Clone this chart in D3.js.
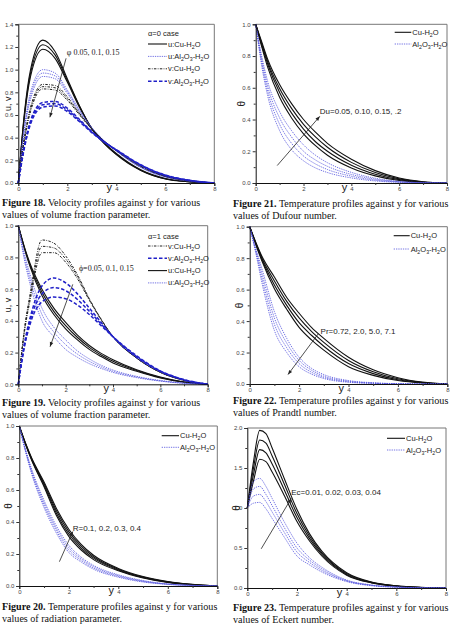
<!DOCTYPE html>
<html>
<head>
<meta charset="utf-8">
<script src="https://cdn.jsdelivr.net/npm/d3@7"></script>
<style>
body{margin:0;background:#fff}
svg{display:block}
</style>
</head>
<body>
<script>
// ---- data ----
// Fig 18 (alpha=0), phi = 0.05, 0.1, 0.15
var xs18 = [0,0.25,0.5,1,1.5,2,2.5,3,3.5,4,5,6,7,8];
var uCu18 = [
  [0,0.62,1.00,1.26,1.16,0.92,0.68,0.48,0.35,0.25,0.11,0.035,0.01,0],
  [0,0.60,0.97,1.22,1.13,0.905,0.675,0.48,0.352,0.255,0.113,0.037,0.011,0],
  [0,0.58,0.94,1.18,1.10,0.89,0.665,0.48,0.355,0.26,0.116,0.04,0.012,0]];
var uAl18 = [
  [0,0.50,0.80,1.00,0.97,0.82,0.645,0.49,0.37,0.28,0.135,0.052,0.016,0],
  [0,0.48,0.77,0.97,0.945,0.805,0.635,0.487,0.372,0.283,0.138,0.054,0.017,0],
  [0,0.46,0.74,0.94,0.92,0.79,0.625,0.485,0.374,0.286,0.141,0.056,0.018,0]];
var vCu18 = [
  [0,0.40,0.67,0.87,0.86,0.76,0.615,0.48,0.37,0.285,0.145,0.058,0.019,0],
  [0,0.39,0.65,0.85,0.84,0.745,0.607,0.477,0.37,0.288,0.148,0.06,0.02,0],
  [0,0.38,0.63,0.83,0.82,0.73,0.60,0.474,0.37,0.29,0.151,0.062,0.021,0]];
var vAl18 = [
  [0,0.33,0.55,0.71,0.72,0.66,0.56,0.455,0.365,0.29,0.155,0.066,0.022,0],
  [0,0.32,0.535,0.69,0.70,0.645,0.55,0.45,0.363,0.292,0.158,0.068,0.023,0],
  [0,0.31,0.52,0.67,0.68,0.63,0.54,0.445,0.361,0.294,0.161,0.07,0.024,0]];

// Fig 19 (alpha=1)
var xs19 = [0,0.25,0.5,1,1.5,2,2.5,3,3.5,4,5,6,7,8];
var vCu19 = [
  [0,0.34,0.57,0.91,0.89,0.81,0.69,0.54,0.41,0.30,0.165,0.075,0.025,0],
  [0,0.33,0.55,0.87,0.86,0.79,0.68,0.535,0.41,0.30,0.165,0.075,0.025,0],
  [0,0.32,0.53,0.83,0.83,0.77,0.665,0.53,0.405,0.30,0.165,0.075,0.025,0]];
var vAl19 = [
  [0,0.25,0.42,0.62,0.67,0.64,0.57,0.48,0.39,0.30,0.17,0.08,0.027,0],
  [0,0.24,0.40,0.57,0.61,0.59,0.535,0.46,0.38,0.30,0.175,0.082,0.028,0],
  [0,0.23,0.38,0.52,0.55,0.54,0.50,0.44,0.37,0.30,0.18,0.085,0.03,0]];
var uCu19 = [
  [1,0.87,0.76,0.60,0.48,0.39,0.31,0.245,0.195,0.155,0.092,0.046,0.015,0],
  [1,0.865,0.75,0.58,0.46,0.37,0.295,0.233,0.185,0.145,0.087,0.043,0.014,0],
  [1,0.86,0.74,0.56,0.44,0.35,0.28,0.22,0.175,0.135,0.082,0.04,0.013,0]];
var uAl19 = [
  [1,0.83,0.69,0.48,0.36,0.28,0.21,0.16,0.12,0.09,0.05,0.024,0.008,0],
  [1,0.81,0.66,0.44,0.33,0.25,0.19,0.145,0.11,0.082,0.046,0.022,0.007,0],
  [1,0.79,0.63,0.40,0.30,0.22,0.17,0.13,0.10,0.075,0.042,0.02,0.006,0]];

// Fig 20 (R = 0.1 .. 0.4)
var xsT = [0,0.25,0.5,1,1.5,2,2.5,3,4,5,6,7,8];
var cu20 = [
  [1,0.885,0.785,0.62,0.44,0.31,0.225,0.165,0.095,0.05,0.022,0.007,0],
  [1,0.888,0.79,0.63,0.455,0.325,0.237,0.174,0.10,0.053,0.024,0.008,0],
  [1,0.891,0.795,0.64,0.47,0.34,0.249,0.183,0.105,0.056,0.026,0.009,0],
  [1,0.894,0.80,0.65,0.485,0.355,0.26,0.192,0.11,0.059,0.028,0.01,0]];
var al20 = [
  [1,0.84,0.70,0.49,0.33,0.21,0.15,0.105,0.055,0.025,0.01,0.003,0],
  [1,0.845,0.71,0.505,0.345,0.225,0.16,0.113,0.06,0.028,0.011,0.003,0],
  [1,0.85,0.72,0.52,0.36,0.24,0.17,0.121,0.065,0.031,0.012,0.004,0],
  [1,0.855,0.73,0.535,0.375,0.255,0.18,0.129,0.07,0.034,0.013,0.004,0]];

// Fig 21 (Du)
var cu21 = [
  [1,0.86,0.73,0.54,0.41,0.31,0.235,0.175,0.095,0.045,0.016,0.004,0],
  [1,0.87,0.75,0.57,0.44,0.34,0.26,0.20,0.112,0.055,0.021,0.005,0],
  [1,0.88,0.765,0.595,0.47,0.37,0.29,0.225,0.13,0.066,0.026,0.006,0],
  [1,0.89,0.78,0.62,0.50,0.40,0.32,0.25,0.15,0.078,0.031,0.008,0]];
var al21 = [
  [1,0.74,0.55,0.33,0.21,0.14,0.095,0.066,0.032,0.013,0.004,0.001,0],
  [1,0.76,0.58,0.37,0.25,0.17,0.12,0.085,0.043,0.018,0.006,0.001,0],
  [1,0.78,0.61,0.41,0.29,0.20,0.145,0.105,0.054,0.024,0.008,0.002,0],
  [1,0.80,0.64,0.45,0.33,0.24,0.175,0.128,0.067,0.03,0.01,0.002,0]];

// Fig 22 (Pr)
var cu22 = [
  [1,0.90,0.81,0.68,0.55,0.45,0.36,0.29,0.17,0.09,0.04,0.012,0],
  [1,0.895,0.80,0.655,0.525,0.42,0.335,0.265,0.15,0.078,0.033,0.01,0],
  [1,0.89,0.79,0.63,0.50,0.39,0.31,0.24,0.13,0.066,0.027,0.008,0],
  [1,0.885,0.78,0.605,0.475,0.36,0.28,0.215,0.11,0.055,0.022,0.006,0]];
var al22 = [
  [1,0.86,0.73,0.46,0.29,0.17,0.10,0.06,0.022,0.008,0.002,0,0],
  [1,0.85,0.70,0.42,0.26,0.15,0.088,0.05,0.018,0.006,0.002,0,0],
  [1,0.84,0.67,0.38,0.23,0.13,0.075,0.042,0.014,0.005,0.001,0,0],
  [1,0.83,0.64,0.34,0.20,0.11,0.063,0.035,0.011,0.004,0.001,0,0]];

// Fig 23 (Ec)
var xs23 = [0,0.25,0.5,0.75,1,1.5,2,2.5,3,4,5,6,7,8];
var cu23 = [
  [1,1.58,1.97,1.93,1.75,1.36,0.98,0.68,0.46,0.19,0.075,0.028,0.008,0],
  [1,1.50,1.85,1.81,1.65,1.29,0.93,0.65,0.44,0.18,0.071,0.026,0.007,0],
  [1,1.42,1.73,1.69,1.55,1.22,0.88,0.62,0.42,0.17,0.067,0.024,0.006,0],
  [1,1.34,1.61,1.58,1.45,1.15,0.83,0.59,0.40,0.16,0.063,0.022,0.005,0]];
var al23 = [
  [1,1.33,1.37,1.27,1.12,0.82,0.56,0.38,0.26,0.10,0.038,0.013,0.003,0],
  [1,1.24,1.27,1.17,1.03,0.75,0.50,0.35,0.24,0.093,0.035,0.012,0.003,0],
  [1,1.15,1.17,1.08,0.95,0.69,0.45,0.32,0.22,0.087,0.032,0.011,0.003,0],
  [1,1.06,1.07,0.99,0.87,0.63,0.40,0.29,0.20,0.08,0.029,0.01,0.002,0]];

var ticks14 = [0,0.2,0.4,0.6,0.8,1.0,1.2,1.4];
var ticks10 = [0,0.2,0.4,0.6,0.8,1.0];
var ticks20 = [0,0.5,1.0,1.5,2.0];
var xTicks = [0,2,4,6,8];

// ---- line styles ----
var STY = {
  cuSolid:   {stroke:'#111', w:1.1, dash:null},
  alDot:     {stroke:'#5050dd', w:0.8, dash:'1.3,1'},
  cuDashDot: {stroke:'#222', w:1.0, dash:'2.5,1.3,0.8,1.3'},
  alDash:    {stroke:'#2020c8', w:1.5, dash:'3.5,2'}
};

var svg = d3.select('body').append('svg')
  .attr('width',456).attr('height',638)
  .style('font-family','Liberation Sans, Arial, sans-serif');

// text with _2 style subscripts
function rich(sel, str){
  var parts = str.split(/(_\d)/), sub = false;
  parts.forEach(function(s){
    if(!s) return;
    if(/^_\d$/.test(s)){
      sel.append('tspan').attr('font-size','70%').attr('dy',2).text(s[1]);
      sub = true;
    } else {
      var t = sel.append('tspan').text(s);
      if(sub){ t.attr('dy',-2); sub = false; }
    }
  });
}

function drawPanel(p){
  var x = d3.scaleLinear().domain([0,8]).range([p.l,p.r]);
  var y = d3.scaleLinear().domain([0,p.ymax]).range([p.b,p.t]);
  var g = svg.append('g');

  // frame top/right
  g.append('path').attr('d','M'+p.l+','+p.t+'H'+p.r+'V'+p.b)
    .attr('fill','none').attr('stroke','#777').attr('stroke-width',1);

  // curves
  var line = d3.line().x(function(d){return x(d[0]);}).y(function(d){return y(d[1]);})
    .curve(d3.curveMonotoneX);
  p.groups.forEach(function(gr){
    var st = STY[gr.style];
    gr.data.forEach(function(arr){
      g.append('path')
        .datum(p.xs.map(function(v,i){return [v,arr[i]];}))
        .attr('d',line)
        .attr('fill','none')
        .attr('stroke',st.stroke)
        .attr('stroke-width',st.w)
        .attr('stroke-dasharray',st.dash);
    });
  });

  // axes
  var xa = g.append('g').attr('transform','translate(0,'+p.b+')')
    .call(d3.axisBottom(x).tickValues(xTicks).tickSize(3).tickPadding(1).tickFormat(d3.format('d')));
  g.append('g').attr('transform','translate(0,'+p.b+')')
    .call(d3.axisBottom(x).tickValues([1,3,5,7]).tickSize(2).tickFormat(''))
    .select('.domain').remove();
  var ya = g.append('g').attr('transform','translate('+p.l+',0)')
    .call(d3.axisLeft(y).tickValues(p.yticks).tickSize(3).tickPadding(2).tickFormat(d3.format('.1f')));
  var step = p.yticks[1]-p.yticks[0];
  g.append('g').attr('transform','translate('+p.l+',0)')
    .call(d3.axisLeft(y).tickValues(p.yticks.slice(1).map(function(v){return v-step/2;})).tickSize(2).tickFormat(''))
    .select('.domain').remove();
  g.selectAll('.domain').attr('stroke','#111');
  g.selectAll('.tick line').attr('stroke','#333');
  xa.selectAll('text').attr('font-size',6).attr('fill','#444').attr('dy','0.6em');
  ya.selectAll('text').attr('font-size',6).attr('fill','#444');

  // axis titles
  g.append('text').attr('x',x(3.6)).attr('y',p.b+8).attr('font-size',11).attr('fill','#222').text('y');
  g.append('text')
    .attr('transform','translate('+(p.l-5 - p.ylOff)+','+((p.t+p.b)/2)+') rotate(-90)')
    .attr('text-anchor','middle').attr('font-size',p.ylSize).attr('fill','#222').text(p.ylabel);

  // legend
  var L = p.legend;
  if(L.title){
    g.append('text').attr('x',L.x).attr('y',L.ty).attr('font-size',7.5).attr('fill','#222').text(L.title);
  }
  L.items.forEach(function(it,i){
    var st = STY[it.style], yy = L.y0 + i*L.dy;
    g.append('line').attr('x1',L.x).attr('x2',L.x+L.len).attr('y1',yy).attr('y2',yy)
      .attr('stroke',st.stroke).attr('stroke-width',st.w).attr('stroke-dasharray',st.dash);
    var t = g.append('text').attr('x',L.x+L.len+1).attr('y',yy+2.5).attr('font-size',7.5).attr('fill','#222');
    rich(t,it.text);
  });

  // annotation with arrow
  var n = p.note;
  g.append('text').attr('x',x(n.tx)).attr('y',y(n.ty)).attr('font-size',n.size)
    .attr('font-family',n.serif ? 'Liberation Serif, Times New Roman, serif' : null)
    .attr('fill','#222').text(n.text);
  var x1 = x(n.a[0]), y1 = y(n.a[1]), x2 = x(n.a[2]), y2 = y(n.a[3]);
  g.append('line').attr('x1',x1).attr('y1',y1).attr('x2',x2).attr('y2',y2)
    .attr('stroke','#222').attr('stroke-width',0.8);
  var ang = Math.atan2(y2-y1,x2-x1), hl = 4.5, hw = 1.8;
  var bx = x2 - hl*Math.cos(ang), by = y2 - hl*Math.sin(ang);
  g.append('path')
    .attr('d','M'+x2+','+y2+'L'+(bx - hw*Math.sin(ang))+','+(by + hw*Math.cos(ang))
      +'L'+(bx + hw*Math.sin(ang))+','+(by - hw*Math.cos(ang))+'Z')
    .attr('fill','#222');

  // caption
  var c = p.cap;
  var t1 = svg.append('text').attr('x',c.x).attr('y',c.y).attr('font-size',10.1)
    .attr('font-family','Liberation Serif, Times New Roman, serif').attr('fill','#111');
  t1.append('tspan').attr('font-weight','bold').text(c.bold);
  t1.append('tspan').text(' '+c.l1);
  svg.append('text').attr('x',c.x).attr('y',c.y+12).attr('font-size',10.1)
    .attr('font-family','Liberation Serif, Times New Roman, serif').attr('fill','#111').text(c.l2);
}

var panels = [
  {l:18.3,r:214.3,t:24.3,b:183,ymax:1.4,yticks:ticks14,xs:xs18,ylabel:'u, v',ylOff:2,ylSize:9,
   groups:[{data:uCu18,style:'cuSolid'},{data:uAl18,style:'alDot'},{data:vCu18,style:'cuDashDot'},{data:vAl18,style:'alDash'}],
   legend:{x:148,len:19,title:'\u03b1=0 case',ty:36,y0:44,dy:12.4,items:[
     {style:'cuSolid',text:'u:Cu-H_2O'},{style:'alDot',text:'u:Al_2O_3-H_2O'},
     {style:'cuDashDot',text:'v:Cu-H_2O'},{style:'alDash',text:'v:Al_2O_3-H_2O'}]},
   note:{text:'\u03c6  0.05, 0.1, 0.15',tx:1.98,ty:1.13,size:8,serif:true,a:[1.95,1.10,1.29,0.58]},
   cap:{x:2,y:206,bold:'Figure 18.',l1:'Velocity profiles against y for various',l2:'values of volume fraction parameter.'}},
  {l:255.7,r:447,t:24.3,b:183,ymax:1.0,yticks:ticks10,xs:xsT,ylabel:'\u03b8',ylOff:6,ylSize:10,
   groups:[{data:cu21,style:'cuSolid'},{data:al21,style:'alDot'}],
   legend:{x:394.7,len:16.6,y0:32.3,dy:11.7,items:[
     {style:'cuSolid',text:'Cu-H_2O'},{style:'alDot',text:'Al_2O_3-H_2O'}]},
   note:{text:'Du=0.05, 0.10, 0.15,  .2',tx:2.68,ty:0.435,size:8,a:[0.9,0.11,2.68,0.42]},
   cap:{x:233,y:207,bold:'Figure 21.',l1:'Temperature profiles against y for various',l2:'values of Dufour number.'}},
  {l:18.3,r:207.7,t:225.7,b:384.3,ymax:1.0,yticks:ticks10,xs:xs19,ylabel:'u, v',ylOff:2,ylSize:9,
   groups:[{data:uCu19,style:'cuSolid'},{data:uAl19,style:'alDot'},{data:vCu19,style:'cuDashDot'},{data:vAl19,style:'alDash'}],
   legend:{x:148,len:19,title:'\u03b1=1 case',ty:239,y0:246,dy:12.3,items:[
     {style:'cuDashDot',text:'v:Cu-H_2O'},{style:'alDash',text:'v:Al_2O_3-H_2O'},
     {style:'cuSolid',text:'u:Cu-H_2O'},{style:'alDot',text:'u:Al_2O_3-H_2O'}]},
   note:{text:'\u03d5=0.05, 0.1, 0.15',tx:2.56,ty:0.715,size:8,serif:true,a:[2.3,0.63,1.34,0.237]},
   cap:{x:2,y:406,bold:'Figure 19.',l1:'Velocity profiles against y for various',l2:'values of volume fraction parameter.'}},
  {l:249.7,r:447.3,t:226.7,b:384,ymax:1.0,yticks:ticks10,xs:xsT,ylabel:'\u03b8',ylOff:2,ylSize:10,
   groups:[{data:cu22,style:'cuSolid'},{data:al22,style:'alDot'}],
   legend:{x:393.7,len:16,y0:235.7,dy:13.3,items:[
     {style:'cuSolid',text:'Cu-H_2O'},{style:'alDot',text:'Al_2O_3-H_2O'}]},
   note:{text:'Pr=0.72, 2.0, 5.0, 7.1',tx:2.87,ty:0.316,size:8,a:[2.77,0.318,1.55,0.06]},
   cap:{x:233,y:403.5,bold:'Figure 22.',l1:'Temperature profiles against y for various',l2:'values of Prandtl number.'}},
  {l:19.3,r:217.3,t:426,b:586,ymax:1.0,yticks:ticks10,xs:xsT,ylabel:'\u03b8',ylOff:2,ylSize:10,
   groups:[{data:cu20,style:'cuSolid'},{data:al20,style:'alDot'}],
   legend:{x:161.7,len:17.3,y0:435.7,dy:11.6,items:[
     {style:'cuSolid',text:'Cu-H_2O'},{style:'alDot',text:'Al_2O_3-H_2O'}]},
   note:{text:'R=0.1, 0.2, 0.3, 0.4',tx:2.16,ty:0.344,size:8,a:[1.62,0.152,2.16,0.34]},
   cap:{x:2,y:610,bold:'Figure 20.',l1:'Temperature profiles against y for various',l2:'values of radiation parameter.'}},
  {l:247.3,r:446,t:428,b:588,ymax:2.0,yticks:ticks20,xs:xs23,ylabel:'\u03b8',ylOff:2,ylSize:10,
   groups:[{data:cu23,style:'cuSolid'},{data:al23,style:'alDot'}],
   legend:{x:387,len:18,y0:438.3,dy:11.7,items:[
     {style:'cuSolid',text:'Cu-H_2O'},{style:'alDot',text:'Al_2O_3-H_2O'}]},
   note:{text:'Ec=0.01, 0.02, 0.03, 0.04',tx:1.77,ty:1.16,size:8,a:[0.56,0.49,1.77,1.12]},
   cap:{x:233,y:611,bold:'Figure 23.',l1:'Temperature profiles against y for various',l2:'values of Eckert number.'}}
];

panels.forEach(drawPanel);
</script>
</body>
</html>
